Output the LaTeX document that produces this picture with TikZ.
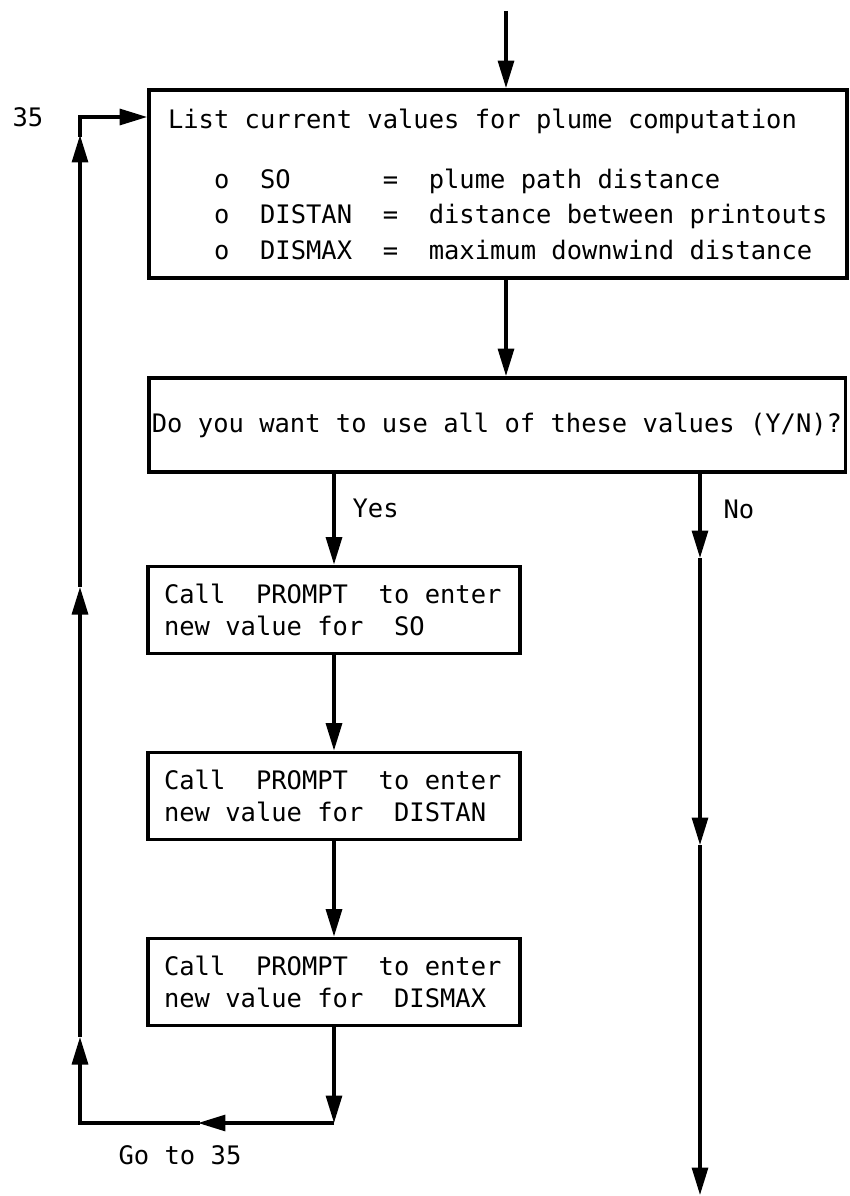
\documentclass[tikz,border=0pt]{standalone}
\usepackage{fontspec}
\setmonofont{DejaVu Sans Mono}
\usetikzlibrary{arrows.meta, positioning, calc}

\begin{document}
\begin{tikzpicture}[
    x=0.02cm, y=-0.02cm,
    font=\ttfamily\fontsize{14.5}{18}\selectfont,
    execute at begin node={\spaceskip=0pt\xspaceskip=0pt},
    listbox/.style={draw, line width=2.2pt, minimum width=13.96cm, minimum height=3.76cm, inner xsep=0.38cm, text width=13.2cm, align=left, font=\ttfamily\fontsize{14.5}{20}\selectfont},
    askbox/.style={draw, line width=2.2pt, minimum width=13.94cm, minimum height=1.88cm, inner xsep=0pt},
    prompt/.style={draw, line width=2.2pt, minimum width=7.44cm, minimum height=1.74cm, inner xsep=0.32cm, text width=6.8cm, align=left},
    arrow/.style={-{Triangle[length=5.5mm, width=3.2mm]}, line width=1.8pt},
    wire/.style={line width=1.8pt, line cap=rect},
    tag/.style={inner sep=0pt}
]
    \useasboundingbox (0,0) rectangle (849,1196);

    % Boxes
    \node[listbox] (list) at (498,184) {List current values for plume computation\\[14.6pt]
        \phantom{ooo}o~~SO~~~~~~=~~plume path distance\\
        \phantom{ooo}o~~DISTAN~~=~~distance between printouts\\
        \phantom{ooo}o~~DISMAX~~=~~maximum downwind distance};
    \node[askbox] (ask) at (497,425) {Do you want to use all of these values (Y/N)?};
    \node[prompt] (so) at (334,610) {Call~~PROMPT~~to enter\\new value for~~SO};
    \node[prompt] (distan) at (334,796) {Call~~PROMPT~~to enter\\new value for~~DISTAN};
    \node[prompt] (dismax) at (334,982) {Call~~PROMPT~~to enter\\new value for~~DISMAX};

    % Texts
    \node[tag] (n35) at (28,117) {35};
    \node[tag] (goto) at (180,1155) {Go to 35};

    % Main flow
    \coordinate (start) at (506,11);
    \draw[arrow] (start) -- (start |- list.north);
    \draw[arrow] (list.south -| start) -- (ask.north -| start);
    \draw[arrow] (ask.south -| so.north) -- node[pos=0.38, right=0.34cm, tag] {Yes} (so.north);
    \draw[arrow] (so) -- (distan);
    \draw[arrow] (distan) -- (dismax);

    % No branch
    \coordinate (no1) at (700,558);
    \coordinate (no2) at (700,845);
    \coordinate (noend) at (700,1195);
    \draw[arrow] (ask.south -| no1) -- node[pos=0.42, right=0.44cm, tag] {No} (no1);
    \draw[arrow] (no1) -- (no2);
    \draw[arrow] (no2) -- (noend);

    % Loop back to 35
    \coordinate (back) at (334,1123);
    \coordinate (g1) at (198,1123);
    \coordinate (corner) at (80,1123);
    \coordinate (u1) at (80,1037);
    \coordinate (u2) at (80,587);
    \coordinate (u3) at (80,135);
    \coordinate (loop) at (80,117);
    \draw[arrow] (dismax) -- (back);
    \draw[arrow] (back) -- (g1);
    \draw[wire] (g1) -- (corner);
    \draw[arrow] (corner) -- (u1);
    \draw[arrow] (u1) -- (u2);
    \draw[arrow] (u2) -- (u3);
    \draw[wire] (u3) -- (loop);
    \draw[arrow] (loop) -- (loop -| list.west);
\end{tikzpicture}
\end{document}
